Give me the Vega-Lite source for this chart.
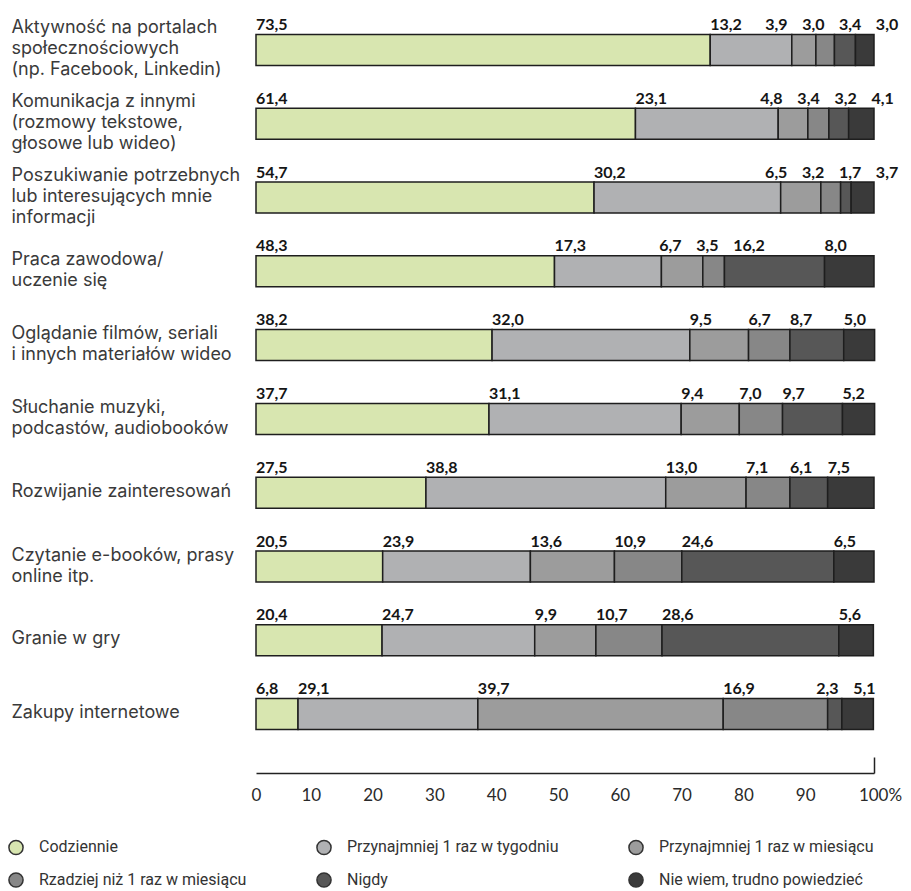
{
  "$schema": "https://vega.github.io/schema/vega-lite/v6.json",
  "width": 618,
  "height": 738,
  "autosize": {"type": "none"},
  "padding": {"left": 256, "top": 13, "right": 37, "bottom": 140},
  "background": "white",
  "data": {"values": [
    {"activity": "Aktywność na portalach\nspołecznościowych\n(np. Facebook, Linkedin)", "frequency": "Codziennie", "pct": 73.5},
    {"activity": "Aktywność na portalach\nspołecznościowych\n(np. Facebook, Linkedin)", "frequency": "Przynajmniej 1 raz w tygodniu", "pct": 13.2},
    {"activity": "Aktywność na portalach\nspołecznościowych\n(np. Facebook, Linkedin)", "frequency": "Przynajmniej 1 raz w miesiącu", "pct": 3.9},
    {"activity": "Aktywność na portalach\nspołecznościowych\n(np. Facebook, Linkedin)", "frequency": "Rzadziej niż 1 raz w miesiącu", "pct": 3.0},
    {"activity": "Aktywność na portalach\nspołecznościowych\n(np. Facebook, Linkedin)", "frequency": "Nigdy", "pct": 3.4},
    {"activity": "Aktywność na portalach\nspołecznościowych\n(np. Facebook, Linkedin)", "frequency": "Nie wiem, trudno powiedzieć", "pct": 3.0},
    {"activity": "Komunikacja z innymi\n(rozmowy tekstowe,\ngłosowe lub wideo)", "frequency": "Codziennie", "pct": 61.4},
    {"activity": "Komunikacja z innymi\n(rozmowy tekstowe,\ngłosowe lub wideo)", "frequency": "Przynajmniej 1 raz w tygodniu", "pct": 23.1},
    {"activity": "Komunikacja z innymi\n(rozmowy tekstowe,\ngłosowe lub wideo)", "frequency": "Przynajmniej 1 raz w miesiącu", "pct": 4.8},
    {"activity": "Komunikacja z innymi\n(rozmowy tekstowe,\ngłosowe lub wideo)", "frequency": "Rzadziej niż 1 raz w miesiącu", "pct": 3.4},
    {"activity": "Komunikacja z innymi\n(rozmowy tekstowe,\ngłosowe lub wideo)", "frequency": "Nigdy", "pct": 3.2},
    {"activity": "Komunikacja z innymi\n(rozmowy tekstowe,\ngłosowe lub wideo)", "frequency": "Nie wiem, trudno powiedzieć", "pct": 4.1},
    {"activity": "Poszukiwanie potrzebnych\nlub interesujących mnie\ninformacji", "frequency": "Codziennie", "pct": 54.7},
    {"activity": "Poszukiwanie potrzebnych\nlub interesujących mnie\ninformacji", "frequency": "Przynajmniej 1 raz w tygodniu", "pct": 30.2},
    {"activity": "Poszukiwanie potrzebnych\nlub interesujących mnie\ninformacji", "frequency": "Przynajmniej 1 raz w miesiącu", "pct": 6.5},
    {"activity": "Poszukiwanie potrzebnych\nlub interesujących mnie\ninformacji", "frequency": "Rzadziej niż 1 raz w miesiącu", "pct": 3.2},
    {"activity": "Poszukiwanie potrzebnych\nlub interesujących mnie\ninformacji", "frequency": "Nigdy", "pct": 1.7},
    {"activity": "Poszukiwanie potrzebnych\nlub interesujących mnie\ninformacji", "frequency": "Nie wiem, trudno powiedzieć", "pct": 3.7},
    {"activity": "Praca zawodowa/\nuczenie się", "frequency": "Codziennie", "pct": 48.3},
    {"activity": "Praca zawodowa/\nuczenie się", "frequency": "Przynajmniej 1 raz w tygodniu", "pct": 17.3},
    {"activity": "Praca zawodowa/\nuczenie się", "frequency": "Przynajmniej 1 raz w miesiącu", "pct": 6.7},
    {"activity": "Praca zawodowa/\nuczenie się", "frequency": "Rzadziej niż 1 raz w miesiącu", "pct": 3.5},
    {"activity": "Praca zawodowa/\nuczenie się", "frequency": "Nigdy", "pct": 16.2},
    {"activity": "Praca zawodowa/\nuczenie się", "frequency": "Nie wiem, trudno powiedzieć", "pct": 8.0},
    {"activity": "Oglądanie filmów, seriali\ni innych materiałów wideo", "frequency": "Codziennie", "pct": 38.2},
    {"activity": "Oglądanie filmów, seriali\ni innych materiałów wideo", "frequency": "Przynajmniej 1 raz w tygodniu", "pct": 32.0},
    {"activity": "Oglądanie filmów, seriali\ni innych materiałów wideo", "frequency": "Przynajmniej 1 raz w miesiącu", "pct": 9.5},
    {"activity": "Oglądanie filmów, seriali\ni innych materiałów wideo", "frequency": "Rzadziej niż 1 raz w miesiącu", "pct": 6.7},
    {"activity": "Oglądanie filmów, seriali\ni innych materiałów wideo", "frequency": "Nigdy", "pct": 8.7},
    {"activity": "Oglądanie filmów, seriali\ni innych materiałów wideo", "frequency": "Nie wiem, trudno powiedzieć", "pct": 5.0},
    {"activity": "Słuchanie muzyki,\npodcastów, audiobooków", "frequency": "Codziennie", "pct": 37.7},
    {"activity": "Słuchanie muzyki,\npodcastów, audiobooków", "frequency": "Przynajmniej 1 raz w tygodniu", "pct": 31.1},
    {"activity": "Słuchanie muzyki,\npodcastów, audiobooków", "frequency": "Przynajmniej 1 raz w miesiącu", "pct": 9.4},
    {"activity": "Słuchanie muzyki,\npodcastów, audiobooków", "frequency": "Rzadziej niż 1 raz w miesiącu", "pct": 7.0},
    {"activity": "Słuchanie muzyki,\npodcastów, audiobooków", "frequency": "Nigdy", "pct": 9.7},
    {"activity": "Słuchanie muzyki,\npodcastów, audiobooków", "frequency": "Nie wiem, trudno powiedzieć", "pct": 5.2},
    {"activity": "Rozwijanie zainteresowań", "frequency": "Codziennie", "pct": 27.5},
    {"activity": "Rozwijanie zainteresowań", "frequency": "Przynajmniej 1 raz w tygodniu", "pct": 38.8},
    {"activity": "Rozwijanie zainteresowań", "frequency": "Przynajmniej 1 raz w miesiącu", "pct": 13.0},
    {"activity": "Rozwijanie zainteresowań", "frequency": "Rzadziej niż 1 raz w miesiącu", "pct": 7.1},
    {"activity": "Rozwijanie zainteresowań", "frequency": "Nigdy", "pct": 6.1},
    {"activity": "Rozwijanie zainteresowań", "frequency": "Nie wiem, trudno powiedzieć", "pct": 7.5},
    {"activity": "Czytanie e-booków, prasy\nonline itp.", "frequency": "Codziennie", "pct": 20.5},
    {"activity": "Czytanie e-booków, prasy\nonline itp.", "frequency": "Przynajmniej 1 raz w tygodniu", "pct": 23.9},
    {"activity": "Czytanie e-booków, prasy\nonline itp.", "frequency": "Przynajmniej 1 raz w miesiącu", "pct": 13.6},
    {"activity": "Czytanie e-booków, prasy\nonline itp.", "frequency": "Rzadziej niż 1 raz w miesiącu", "pct": 10.9},
    {"activity": "Czytanie e-booków, prasy\nonline itp.", "frequency": "Nigdy", "pct": 24.6},
    {"activity": "Czytanie e-booków, prasy\nonline itp.", "frequency": "Nie wiem, trudno powiedzieć", "pct": 6.5},
    {"activity": "Granie w gry", "frequency": "Codziennie", "pct": 20.4},
    {"activity": "Granie w gry", "frequency": "Przynajmniej 1 raz w tygodniu", "pct": 24.7},
    {"activity": "Granie w gry", "frequency": "Przynajmniej 1 raz w miesiącu", "pct": 9.9},
    {"activity": "Granie w gry", "frequency": "Rzadziej niż 1 raz w miesiącu", "pct": 10.7},
    {"activity": "Granie w gry", "frequency": "Nigdy", "pct": 28.6},
    {"activity": "Granie w gry", "frequency": "Nie wiem, trudno powiedzieć", "pct": 5.6},
    {"activity": "Zakupy internetowe", "frequency": "Codziennie", "pct": 6.8},
    {"activity": "Zakupy internetowe", "frequency": "Przynajmniej 1 raz w tygodniu", "pct": 29.1},
    {"activity": "Zakupy internetowe", "frequency": "Przynajmniej 1 raz w miesiącu", "pct": 39.7},
    {"activity": "Zakupy internetowe", "frequency": "Rzadziej niż 1 raz w miesiącu", "pct": 16.9},
    {"activity": "Zakupy internetowe", "frequency": "Nigdy", "pct": 2.3},
    {"activity": "Zakupy internetowe", "frequency": "Nie wiem, trudno powiedzieć", "pct": 5.1}
  ]},
  "transform": [
    {"calculate": "indexof(['Codziennie','Przynajmniej 1 raz w tygodniu','Przynajmniej 1 raz w miesiącu','Rzadziej niż 1 raz w miesiącu','Nigdy','Nie wiem, trudno powiedzieć'], datum.frequency)", "as": "ord"},
    {"calculate": "replace(format(datum.pct, '.1f'), '.', ',')", "as": "lbl"},
    {"calculate": "datum.pct >= 10 ? 7.0 : 6.0", "as": "w"},
    {"stack": "pct", "groupby": ["activity"], "sort": [{"field": "ord", "order": "ascending"}], "as": ["s0", "s1"]},
    {"calculate": "datum.s0", "as": "p"},
    {"window": [{"op": "lag", "field": "w", "as": "wl"}], "groupby": ["activity"], "sort": [{"field": "ord"}]},
    {"window": [{"op": "lag", "field": "p", "as": "pl"}, {"op": "lead", "field": "p", "as": "pn"}], "groupby": ["activity"], "sort": [{"field": "ord"}]},
    {"calculate": "min(100.3, datum.p + (isValid(datum.pl) ? 0.5*max(0, datum.wl-(datum.p-datum.pl)) : 0) - (isValid(datum.pn) ? 0.5*max(0, datum.w-(datum.pn-datum.p)) : 0))", "as": "p"},
    {"window": [{"op": "lag", "field": "p", "as": "pl"}, {"op": "lead", "field": "p", "as": "pn"}], "groupby": ["activity"], "sort": [{"field": "ord"}]},
    {"calculate": "min(100.3, datum.p + (isValid(datum.pl) ? 0.5*max(0, datum.wl-(datum.p-datum.pl)) : 0) - (isValid(datum.pn) ? 0.5*max(0, datum.w-(datum.pn-datum.p)) : 0))", "as": "p"},
    {"window": [{"op": "lag", "field": "p", "as": "pl"}, {"op": "lead", "field": "p", "as": "pn"}], "groupby": ["activity"], "sort": [{"field": "ord"}]},
    {"calculate": "min(100.3, datum.p + (isValid(datum.pl) ? 0.5*max(0, datum.wl-(datum.p-datum.pl)) : 0) - (isValid(datum.pn) ? 0.5*max(0, datum.w-(datum.pn-datum.p)) : 0))", "as": "p"},
    {"window": [{"op": "lag", "field": "p", "as": "pl"}, {"op": "lead", "field": "p", "as": "pn"}], "groupby": ["activity"], "sort": [{"field": "ord"}]},
    {"calculate": "min(100.3, datum.p + (isValid(datum.pl) ? 0.5*max(0, datum.wl-(datum.p-datum.pl)) : 0) - (isValid(datum.pn) ? 0.5*max(0, datum.w-(datum.pn-datum.p)) : 0))", "as": "p"},
    {"window": [{"op": "lag", "field": "p", "as": "pl"}, {"op": "lead", "field": "p", "as": "pn"}], "groupby": ["activity"], "sort": [{"field": "ord"}]},
    {"calculate": "min(100.3, datum.p + (isValid(datum.pl) ? 0.5*max(0, datum.wl-(datum.p-datum.pl)) : 0) - (isValid(datum.pn) ? 0.5*max(0, datum.w-(datum.pn-datum.p)) : 0))", "as": "p"},
    {"window": [{"op": "lag", "field": "p", "as": "pl"}, {"op": "lead", "field": "p", "as": "pn"}], "groupby": ["activity"], "sort": [{"field": "ord"}]},
    {"calculate": "min(100.3, datum.p + (isValid(datum.pl) ? 0.5*max(0, datum.wl-(datum.p-datum.pl)) : 0) - (isValid(datum.pn) ? 0.5*max(0, datum.w-(datum.pn-datum.p)) : 0))", "as": "p"},
    {"window": [{"op": "lag", "field": "p", "as": "pl"}, {"op": "lead", "field": "p", "as": "pn"}], "groupby": ["activity"], "sort": [{"field": "ord"}]},
    {"calculate": "min(100.3, datum.p + (isValid(datum.pl) ? 0.5*max(0, datum.wl-(datum.p-datum.pl)) : 0) - (isValid(datum.pn) ? 0.5*max(0, datum.w-(datum.pn-datum.p)) : 0))", "as": "p"},
    {"window": [{"op": "lag", "field": "p", "as": "pl"}, {"op": "lead", "field": "p", "as": "pn"}], "groupby": ["activity"], "sort": [{"field": "ord"}]},
    {"calculate": "min(100.3, datum.p + (isValid(datum.pl) ? 0.5*max(0, datum.wl-(datum.p-datum.pl)) : 0) - (isValid(datum.pn) ? 0.5*max(0, datum.w-(datum.pn-datum.p)) : 0))", "as": "p"},
    {"window": [{"op": "lag", "field": "p", "as": "pl"}, {"op": "lead", "field": "p", "as": "pn"}], "groupby": ["activity"], "sort": [{"field": "ord"}]},
    {"calculate": "min(100.3, datum.p + (isValid(datum.pl) ? 0.5*max(0, datum.wl-(datum.p-datum.pl)) : 0) - (isValid(datum.pn) ? 0.5*max(0, datum.w-(datum.pn-datum.p)) : 0))", "as": "p"},
    {"window": [{"op": "lag", "field": "p", "as": "pl"}, {"op": "lead", "field": "p", "as": "pn"}], "groupby": ["activity"], "sort": [{"field": "ord"}]},
    {"calculate": "min(100.3, datum.p + (isValid(datum.pl) ? 0.5*max(0, datum.wl-(datum.p-datum.pl)) : 0) - (isValid(datum.pn) ? 0.5*max(0, datum.w-(datum.pn-datum.p)) : 0))", "as": "p"},
    {"window": [{"op": "lag", "field": "p", "as": "pl"}, {"op": "lead", "field": "p", "as": "pn"}], "groupby": ["activity"], "sort": [{"field": "ord"}]},
    {"calculate": "min(100.3, datum.p + (isValid(datum.pl) ? 0.5*max(0, datum.wl-(datum.p-datum.pl)) : 0) - (isValid(datum.pn) ? 0.5*max(0, datum.w-(datum.pn-datum.p)) : 0))", "as": "p"},
    {"window": [{"op": "lag", "field": "p", "as": "pl"}, {"op": "lead", "field": "p", "as": "pn"}], "groupby": ["activity"], "sort": [{"field": "ord"}]},
    {"calculate": "min(100.3, datum.p + (isValid(datum.pl) ? 0.5*max(0, datum.wl-(datum.p-datum.pl)) : 0) - (isValid(datum.pn) ? 0.5*max(0, datum.w-(datum.pn-datum.p)) : 0))", "as": "p"},
    {"window": [{"op": "lag", "field": "p", "as": "pl"}, {"op": "lead", "field": "p", "as": "pn"}], "groupby": ["activity"], "sort": [{"field": "ord"}]},
    {"calculate": "min(100.3, datum.p + (isValid(datum.pl) ? 0.5*max(0, datum.wl-(datum.p-datum.pl)) : 0) - (isValid(datum.pn) ? 0.5*max(0, datum.w-(datum.pn-datum.p)) : 0))", "as": "p"},
    {"window": [{"op": "lag", "field": "p", "as": "pl"}, {"op": "lead", "field": "p", "as": "pn"}], "groupby": ["activity"], "sort": [{"field": "ord"}]},
    {"calculate": "min(100.3, datum.p + (isValid(datum.pl) ? 0.5*max(0, datum.wl-(datum.p-datum.pl)) : 0) - (isValid(datum.pn) ? 0.5*max(0, datum.w-(datum.pn-datum.p)) : 0))", "as": "p"},
    {"window": [{"op": "lag", "field": "p", "as": "pl"}, {"op": "lead", "field": "p", "as": "pn"}], "groupby": ["activity"], "sort": [{"field": "ord"}]},
    {"calculate": "min(100.3, datum.p + (isValid(datum.pl) ? 0.5*max(0, datum.wl-(datum.p-datum.pl)) : 0) - (isValid(datum.pn) ? 0.5*max(0, datum.w-(datum.pn-datum.p)) : 0))", "as": "p"},
    {"window": [{"op": "lag", "field": "p", "as": "pl"}, {"op": "lead", "field": "p", "as": "pn"}], "groupby": ["activity"], "sort": [{"field": "ord"}]},
    {"calculate": "min(100.3, datum.p + (isValid(datum.pl) ? 0.5*max(0, datum.wl-(datum.p-datum.pl)) : 0) - (isValid(datum.pn) ? 0.5*max(0, datum.w-(datum.pn-datum.p)) : 0))", "as": "p"},
    {"window": [{"op": "lag", "field": "p", "as": "pl"}, {"op": "lead", "field": "p", "as": "pn"}], "groupby": ["activity"], "sort": [{"field": "ord"}]},
    {"calculate": "min(100.3, datum.p + (isValid(datum.pl) ? 0.5*max(0, datum.wl-(datum.p-datum.pl)) : 0) - (isValid(datum.pn) ? 0.5*max(0, datum.w-(datum.pn-datum.p)) : 0))", "as": "p"},
    {"window": [{"op": "lag", "field": "p", "as": "pl"}, {"op": "lead", "field": "p", "as": "pn"}], "groupby": ["activity"], "sort": [{"field": "ord"}]},
    {"calculate": "min(100.3, datum.p + (isValid(datum.pl) ? 0.5*max(0, datum.wl-(datum.p-datum.pl)) : 0) - (isValid(datum.pn) ? 0.5*max(0, datum.w-(datum.pn-datum.p)) : 0))", "as": "p"},
    {"window": [{"op": "lag", "field": "p", "as": "pl"}, {"op": "lead", "field": "p", "as": "pn"}], "groupby": ["activity"], "sort": [{"field": "ord"}]},
    {"calculate": "min(100.3, datum.p + (isValid(datum.pl) ? 0.5*max(0, datum.wl-(datum.p-datum.pl)) : 0) - (isValid(datum.pn) ? 0.5*max(0, datum.w-(datum.pn-datum.p)) : 0))", "as": "p"},
    {"window": [{"op": "lag", "field": "p", "as": "pl"}, {"op": "lead", "field": "p", "as": "pn"}], "groupby": ["activity"], "sort": [{"field": "ord"}]},
    {"calculate": "min(100.3, datum.p + (isValid(datum.pl) ? 0.5*max(0, datum.wl-(datum.p-datum.pl)) : 0) - (isValid(datum.pn) ? 0.5*max(0, datum.w-(datum.pn-datum.p)) : 0))", "as": "p"},
    {"window": [{"op": "lag", "field": "p", "as": "pl"}, {"op": "lead", "field": "p", "as": "pn"}], "groupby": ["activity"], "sort": [{"field": "ord"}]},
    {"calculate": "min(100.3, datum.p + (isValid(datum.pl) ? 0.5*max(0, datum.wl-(datum.p-datum.pl)) : 0) - (isValid(datum.pn) ? 0.5*max(0, datum.w-(datum.pn-datum.p)) : 0))", "as": "p"},
    {"window": [{"op": "lag", "field": "p", "as": "pl"}, {"op": "lead", "field": "p", "as": "pn"}], "groupby": ["activity"], "sort": [{"field": "ord"}]},
    {"calculate": "min(100.3, datum.p + (isValid(datum.pl) ? 0.5*max(0, datum.wl-(datum.p-datum.pl)) : 0) - (isValid(datum.pn) ? 0.5*max(0, datum.w-(datum.pn-datum.p)) : 0))", "as": "p"},
    {"window": [{"op": "lag", "field": "p", "as": "pl"}, {"op": "lead", "field": "p", "as": "pn"}], "groupby": ["activity"], "sort": [{"field": "ord"}]},
    {"calculate": "min(100.3, datum.p + (isValid(datum.pl) ? 0.5*max(0, datum.wl-(datum.p-datum.pl)) : 0) - (isValid(datum.pn) ? 0.5*max(0, datum.w-(datum.pn-datum.p)) : 0))", "as": "p"},
    {"window": [{"op": "lag", "field": "p", "as": "pl"}, {"op": "lead", "field": "p", "as": "pn"}], "groupby": ["activity"], "sort": [{"field": "ord"}]},
    {"calculate": "min(100.3, datum.p + (isValid(datum.pl) ? 0.5*max(0, datum.wl-(datum.p-datum.pl)) : 0) - (isValid(datum.pn) ? 0.5*max(0, datum.w-(datum.pn-datum.p)) : 0))", "as": "p"},
    {"window": [{"op": "lag", "field": "p", "as": "pl"}, {"op": "lead", "field": "p", "as": "pn"}], "groupby": ["activity"], "sort": [{"field": "ord"}]},
    {"calculate": "min(100.3, datum.p + (isValid(datum.pl) ? 0.5*max(0, datum.wl-(datum.p-datum.pl)) : 0) - (isValid(datum.pn) ? 0.5*max(0, datum.w-(datum.pn-datum.p)) : 0))", "as": "p"},
    {"window": [{"op": "lag", "field": "p", "as": "pl"}, {"op": "lead", "field": "p", "as": "pn"}], "groupby": ["activity"], "sort": [{"field": "ord"}]},
    {"calculate": "min(100.3, datum.p + (isValid(datum.pl) ? 0.5*max(0, datum.wl-(datum.p-datum.pl)) : 0) - (isValid(datum.pn) ? 0.5*max(0, datum.w-(datum.pn-datum.p)) : 0))", "as": "p"},
    {"window": [{"op": "lag", "field": "p", "as": "pl"}, {"op": "lead", "field": "p", "as": "pn"}], "groupby": ["activity"], "sort": [{"field": "ord"}]},
    {"calculate": "min(100.3, datum.p + (isValid(datum.pl) ? 0.5*max(0, datum.wl-(datum.p-datum.pl)) : 0) - (isValid(datum.pn) ? 0.5*max(0, datum.w-(datum.pn-datum.p)) : 0))", "as": "p"},
    {"window": [{"op": "lag", "field": "p", "as": "pl"}, {"op": "lead", "field": "p", "as": "pn"}], "groupby": ["activity"], "sort": [{"field": "ord"}]},
    {"calculate": "min(100.3, datum.p + (isValid(datum.pl) ? 0.5*max(0, datum.wl-(datum.p-datum.pl)) : 0) - (isValid(datum.pn) ? 0.5*max(0, datum.w-(datum.pn-datum.p)) : 0))", "as": "p"},
    {"window": [{"op": "lag", "field": "p", "as": "pl"}, {"op": "lead", "field": "p", "as": "pn"}], "groupby": ["activity"], "sort": [{"field": "ord"}]},
    {"calculate": "min(100.3, datum.p + (isValid(datum.pl) ? 0.5*max(0, datum.wl-(datum.p-datum.pl)) : 0) - (isValid(datum.pn) ? 0.5*max(0, datum.w-(datum.pn-datum.p)) : 0))", "as": "p"}
  ],
  "encoding": {
    "y": {
      "field": "activity",
      "type": "nominal",
      "sort": null,
      "scale": {"paddingInner": 0.58, "paddingOuter": 0.29},
      "axis": {
        "title": null,
        "orient": "left",
        "domain": false,
        "ticks": false,
        "labelAlign": "left",
        "labelBaseline": "middle",
        "labelPadding": 245,
        "labelFont": "Inter",
        "labelFontSize": 18,
        "labelColor": "#3a3a3a",
        "labelLineHeight": 21,
        "labelLimit": 400,
        "labelOffset": {"condition": [{"test": "length(split(datum.value, '\\n')) === 3", "value": -22}, {"test": "length(split(datum.value, '\\n')) === 2", "value": -11}], "value": -1},
        "labelExpr": "split(datum.label, '\\n')"
      }
    }
  },
  "layer": [
    {
      "mark": {"type": "bar", "stroke": "#1e1e1e", "strokeWidth": 1.5},
      "encoding": {
        "x": {
          "field": "s0",
          "type": "quantitative",
          "scale": {"domain": [0, 100], "nice": false},
          "axis": {
            "title": null,
            "orient": "bottom",
            "offset": 22,
            "grid": false,
            "values": [0, 10, 20, 30, 40, 50, 60, 70, 80, 90, 100],
            "domainColor": "#222",
            "domainWidth": 1.5,
            "ticks": true,
            "tickSize": -16,
            "tickWidth": 1.5,
            "tickColor": {"condition": {"test": "datum.value === 100", "value": "#222"}, "value": "transparent"},
            "labelPadding": 30,
            "labelFlush": false,
            "labelFont": "Lato",
            "labelFontSize": 17,
            "labelColor": "#2a2a2a",
            "labelOffset": {"condition": [{"test": "datum.value === 100", "value": 6}, {"test": "datum.value === 0", "value": 0}], "value": -7},
            "labelExpr": "datum.value === 100 ? '100%' : datum.label"
          }
        },
        "x2": {"field": "s1"},
        "fill": {
          "field": "frequency",
          "type": "nominal",
          "scale": {
            "domain": ["Codziennie", "Przynajmniej 1 raz w tygodniu", "Przynajmniej 1 raz w miesiącu", "Rzadziej niż 1 raz w miesiącu", "Nigdy", "Nie wiem, trudno powiedzieć"],
            "range": ["#d8e6b0", "#b0b1b3", "#9c9c9c", "#878787", "#575757", "#3a3a3a"]
          },
          "legend": {
            "title": null,
            "orient": "none",
            "legendX": -248,
            "legendY": 826,
            "direction": "horizontal",
            "columns": 3,
            "columnPadding": 66,
            "rowPadding": 11,
            "padding": 0,
            "symbolType": "circle",
            "symbolSize": 200,
            "symbolStrokeColor": "#333",
            "symbolStrokeWidth": 1.5,
            "labelOffset": 15,
            "labelFont": "Roboto",
            "labelFontSize": 16,
            "labelColor": "#333",
            "labelLimit": 400
          }
        }
      }
    },
    {
      "mark": {"type": "text", "align": "left", "baseline": "alphabetic", "dy": -20, "font": "Lato", "fontWeight": "bold", "fontSize": 16, "color": "#151515"},
      "encoding": {
        "x": {"field": "p", "type": "quantitative"},
        "text": {"field": "lbl"}
      }
    }
  ],
  "config": {"view": {"stroke": null}}
}
